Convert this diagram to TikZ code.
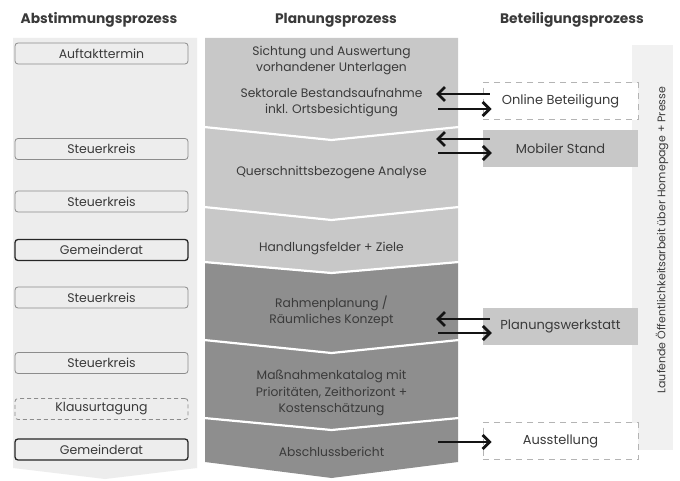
\documentclass[tikz,border=0pt]{standalone}
\usepackage{fontspec}
\setmainfont{Poppins}
\usetikzlibrary{arrows.meta}
\definecolor{txtgray}{HTML}{3A3A3A}
\definecolor{colbg}{HTML}{EDEDED}
\definecolor{planlight}{HTML}{C8C8C8}
\definecolor{plandark}{HTML}{8E8E8E}
\definecolor{stripbg}{HTML}{F1F1F1}
\definecolor{boxline}{HTML}{8C8C8C}
\definecolor{dashline}{HTML}{B4B4B4}

\tikzset{
  head/.style={font=\bfseries\fontsize{13.8}{16}\selectfont, text=txtgray},
  lbox/.style={draw=boxline, line width=0.8pt, rounded corners=3pt, fill=colbg,
    minimum width=173pt, minimum height=21pt, inner sep=0pt,
    font=\fontsize{12.5}{14}\selectfont, text=txtgray},
  gbox/.style={lbox, draw=black!85, line width=1.3pt},
  kbox/.style={lbox, draw=boxline, dashed, dash pattern=on 4pt off 3pt},
  mtext/.style={align=center, font=\fontsize{12.3}{16.5}\selectfont, text=txtgray, inner sep=0pt},
  rbox/.style={minimum width=155pt, minimum height=37pt, inner sep=0pt,
    font=\fontsize{13}{15}\selectfont, text=txtgray},
  rdash/.style={rbox, draw=dashline, line width=1pt, dash pattern=on 6pt off 5pt, fill=white},
  rfill/.style={rbox, fill=planlight},
  arr/.style={line width=2.8pt, draw=black!92, -{Straight Barb[length=7pt,width=14pt]}}
}

\begin{document}
\begin{tikzpicture}[x=1pt,y=-1pt]
\useasboundingbox (0,0) rectangle (680,481);
\fill[white] (0,0) rectangle (680,481);

% headings
\node[head] (habst) at (99,20) {Abstimmungsprozess};
\node[head] (hplan) at (336,20) {Planungsprozess};
\node[head] (hbet) at (572,20) {Beteiligungsprozess};

% left column
\fill[colbg] (13,38) -- (197,38) -- (197,468) -- (105,479) -- (13,468) -- cycle;
\node[lbox] (auftakt) at (101.5,53.5) {Auftakttermin};
\node[lbox] (steuer1) at (101.5,149) {Steuerkreis};
\node[lbox] (steuer2) at (101.5,201.5) {Steuerkreis};
\node[gbox] (gemeinde1) at (101.5,250) {Gemeinderat};
\node[lbox] (steuer3) at (101.5,297.5) {Steuerkreis};
\node[lbox] (steuer4) at (101.5,363) {Steuerkreis};
\node[kbox] (klausur) at (101.5,409) {Klausurtagung};
\node[gbox] (gemeinde2) at (101.5,449.5) {Gemeinderat};

% middle column
\fill[planlight] (205,38) -- (458,38) -- (458,127) -- (331.5,140) -- (205,127) -- cycle;
\fill[planlight] (205,127) -- (331.5,140) -- (458,127) -- (458,207) -- (331.5,220) -- (205,207) -- cycle;
\fill[planlight] (205,207) -- (331.5,220) -- (458,207) -- (458,262) -- (331.5,273) -- (205,262) -- cycle;
\fill[plandark] (205,262) -- (331.5,273) -- (458,262) -- (458,340) -- (331.5,353) -- (205,340) -- cycle;
\fill[plandark] (205,340) -- (331.5,353) -- (458,340) -- (458,418) -- (331.5,430) -- (205,418) -- cycle;
\fill[plandark] (205,418) -- (331.5,430) -- (458,418) -- (458,462) -- (331.5,478) -- (205,462) -- cycle;
\foreach \e/\c in {127/140, 207/220, 262/273, 340/353, 418/430}
  \draw[white, line width=2.2pt] (204,\e) -- (331.5,\c) -- (459,\e);

\node[mtext] (sichtung) at (331.5,60.5) {Sichtung und Auswertung\\vorhandener Unterlagen};
\node[mtext] (sektoral) at (331.5,102.5) {Sektorale Bestandsaufnahme\\inkl. Ortsbesichtigung};
\node[mtext] (analyse) at (331.5,172) {Querschnittsbezogene Analyse};
\node[mtext] (ziele) at (331.5,248) {Handlungsfelder + Ziele};
\node[mtext] (rahmen) at (331.5,311.5) {Rahmenplanung /\\Räumliches Konzept};
\node[mtext] (katalog) at (331.5,393) {Maßnahmenkatalog mit\\Prioritäten, Zeithorizont +\\Kostenschätzung};
\node[mtext] (bericht) at (331.5,452) {Abschlussbericht};

% right column
\fill[stripbg] (632,45) rectangle (673,450);
\node[rotate=90, font=\fontsize{11}{12}\selectfont, text=txtgray] (presse) at (662,240)
  {Laufende Öffentlichkeitsarbeit über Homepage + Presse};
\node[rdash] (online) at (560.5,101.5) {Online Beteiligung};
\node[rfill] (mobil) at (560.5,148.5) {Mobiler Stand};
\node[rfill] (werkstatt) at (560.5,326.5) {Planungswerkstatt};
\node[rdash] (ausstellung) at (560.5,441) {Ausstellung};

% arrows
\coordinate (a1) at (436,94);
\coordinate (a2) at (438,109);
\coordinate (a3) at (436,139);
\coordinate (a4) at (438,153);
\coordinate (a5) at (436,319);
\coordinate (a6) at (438,333);
\coordinate (a7) at (438,442);
\draw[arr] ([xshift=7pt,yshift=7.5pt]online.west) -- (a1);
\draw[arr] (a2) -- ([xshift=9pt,yshift=-7.5pt]online.west);
\draw[arr] ([xshift=7pt,yshift=9.5pt]mobil.west) -- (a3);
\draw[arr] (a4) -- ([xshift=9pt,yshift=-4.5pt]mobil.west);
\draw[arr] ([xshift=7pt,yshift=7.5pt]werkstatt.west) -- (a5);
\draw[arr] (a6) -- ([xshift=9pt,yshift=-6.5pt]werkstatt.west);
\draw[arr] (a7) -- ([xshift=9pt,yshift=-1pt]ausstellung.west);
\end{tikzpicture}
\end{document}
